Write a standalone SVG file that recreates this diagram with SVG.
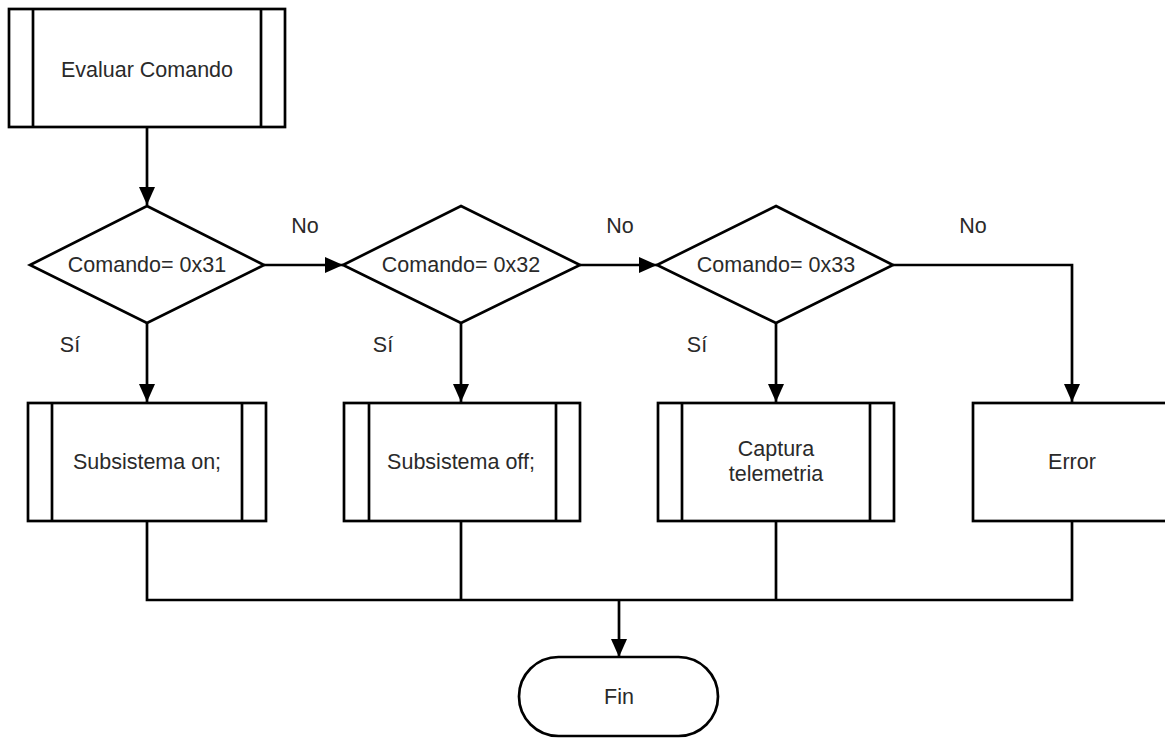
<svg xmlns="http://www.w3.org/2000/svg" width="1165" height="738" viewBox="0 0 1165 738">
<style>
.s{fill:#fff;stroke:#000;stroke-width:2.7}
.l{fill:none;stroke:#000;stroke-width:2.7}
.c{fill:none;stroke:#000;stroke-width:2.7}
.t{font-family:"Liberation Sans",Arial,sans-serif;font-size:21.5px;fill:#2a2a2a;text-anchor:middle}
</style>
<defs>
<marker id="ah" viewBox="0 0 18 16" refX="18" refY="8" markerWidth="18" markerHeight="16" markerUnits="userSpaceOnUse" orient="auto">
<path d="M0,0 L18,8 L0,16 Z" fill="#000"/>
</marker>
</defs>
<rect width="1165" height="738" fill="#fff"/>
<g id="connectors">
<line class="c" x1="147" y1="127" x2="147" y2="205" marker-end="url(#ah)"/>
<line class="c" x1="264" y1="265" x2="343" y2="265" marker-end="url(#ah)"/>
<line class="c" x1="580" y1="265" x2="657" y2="265" marker-end="url(#ah)"/>
<polyline class="c" points="893,265 1072,265 1072,402" marker-end="url(#ah)"/>
<line class="c" x1="147" y1="323" x2="147" y2="402" marker-end="url(#ah)"/>
<line class="c" x1="461" y1="323" x2="461" y2="402" marker-end="url(#ah)"/>
<line class="c" x1="776" y1="323" x2="776" y2="402" marker-end="url(#ah)"/>
<polyline class="c" points="147,521 147,600 1072,600 1072,521"/>
<line class="c" x1="461" y1="521" x2="461" y2="600"/>
<line class="c" x1="776" y1="521" x2="776" y2="600"/>
<line class="c" x1="619" y1="600" x2="619" y2="657" marker-end="url(#ah)"/>
<text class="t" x="305" y="233">No</text>
<text class="t" x="620" y="233">No</text>
<text class="t" x="973" y="233">No</text>
<text class="t" x="70" y="352">Sí</text>
<text class="t" x="383" y="352">Sí</text>
<text class="t" x="697" y="352">Sí</text>
</g>
<g id="evaluar">
<rect class="s" x="9" y="9" width="276" height="118"/>
<line class="l" x1="33" y1="9" x2="33" y2="127"/>
<line class="l" x1="261" y1="9" x2="261" y2="127"/>
<text class="t" x="147" y="77">Evaluar Comando</text>
</g>
<g id="d1">
<polygon class="s" points="147,206 264,265 147,323 30,265"/>
<text class="t" x="147" y="272">Comando= 0x31</text>
</g>
<g id="d2">
<polygon class="s" points="461,206 580,265 461,323 343,265"/>
<text class="t" x="461" y="272">Comando= 0x32</text>
</g>
<g id="d3">
<polygon class="s" points="776,206 893,265 776,323 657,265"/>
<text class="t" x="776" y="272">Comando= 0x33</text>
</g>
<g id="on">
<rect class="s" x="28" y="403" width="238" height="118"/>
<line class="l" x1="52" y1="403" x2="52" y2="521"/>
<line class="l" x1="242" y1="403" x2="242" y2="521"/>
<text class="t" x="147" y="469">Subsistema on;</text>
</g>
<g id="off">
<rect class="s" x="344" y="403" width="236" height="118"/>
<line class="l" x1="369" y1="403" x2="369" y2="521"/>
<line class="l" x1="556" y1="403" x2="556" y2="521"/>
<text class="t" x="461" y="469">Subsistema off;</text>
</g>
<g id="captura">
<rect class="s" x="658" y="403" width="236" height="118"/>
<line class="l" x1="682" y1="403" x2="682" y2="521"/>
<line class="l" x1="870" y1="403" x2="870" y2="521"/>
<text class="t" x="776" y="456">Captura</text>
<text class="t" x="776" y="481">telemetria</text>
</g>
<g id="error">
<rect class="s" x="973" y="403" width="200" height="118"/>
<text class="t" x="1072" y="469">Error</text>
</g>
<g id="fin">
<rect class="s" x="519" y="657" width="199" height="79" rx="39.5"/>
<text class="t" x="619" y="704">Fin</text>
</g>
</svg>
